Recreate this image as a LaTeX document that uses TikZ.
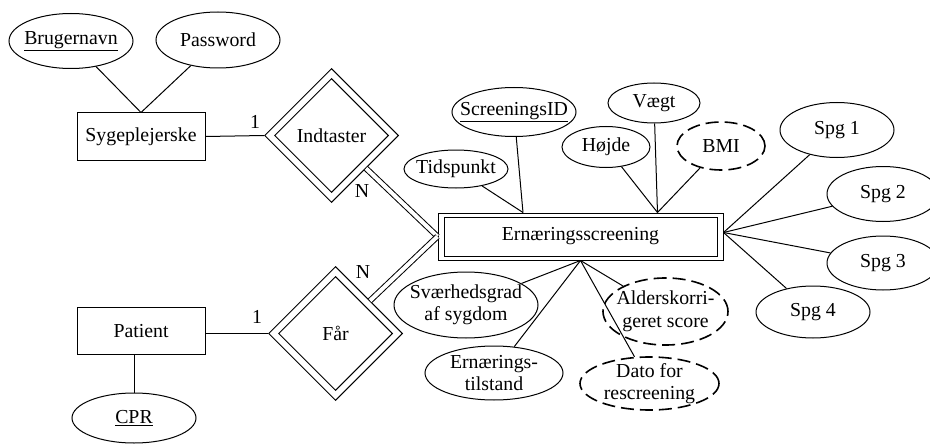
\documentclass[tikz,border=0pt]{standalone}
\usepackage{fontspec}
\setmainfont{Liberation Serif}
\usetikzlibrary{shapes.geometric}
\begin{document}
\begin{tikzpicture}[x=1pt,y=-1pt,
  line width=1pt,
  every node/.style={font=\fontsize{19.8}{22.5}\selectfont},
  entity/.style={draw, rectangle, minimum width=128pt, minimum height=47pt},
  attr/.style={draw, ellipse, inner sep=0pt},
  derived/.style={attr, dash pattern=on 13pt off 6pt, line width=1.6pt},
  relouter/.style={draw, diamond, aspect=1, inner sep=0pt, minimum width=134pt, minimum height=134pt},
  relinner/.style={draw, diamond, aspect=1, inner sep=0pt, minimum width=114pt, minimum height=114pt},
  card/.style={inner sep=0pt},
  ident/.style={double, double distance=4pt},
  txt/.style={align=center, inner sep=0pt},
]
\useasboundingbox (0,0) rectangle (930,444);

% entities
\node[entity] (syg) at (141,136.5) {Sygeplejerske};
\node[entity] (pat) at (141,331) {Patient};
\node[entity, minimum width=285pt, minimum height=47pt] (ent) at (580.5,236.5) {Ernæringsscreening};
\draw ([shift={(6.5,4.5)}]ent.north west) rectangle ([shift={(-6.5,-4.5)}]ent.south east);

% relationships (identifying, double diamonds)
\node[relouter] (ind) at (331.5,135.5) {};
\node[relinner] (indI) at (ind) {Indtaster};
\node[relouter] (far) at (335.5,333.5) {};
\node[relinner] (farI) at (far) {Får};

% attributes of Sygeplejerske
\node[attr, minimum width=124pt, minimum height=55pt] (brug) at (71,41) {};
\node[txt] (brugT) at (brug) {\underline{Brugernavn}};
\node[attr, minimum width=124pt, minimum height=56pt] (pass) at (218,40) {};
\node[txt] (passT) at (pass) {Password};
\draw (brug) -- (syg.north);
\draw (pass) -- (syg.north);

% attribute of Patient
\node[attr, minimum width=124pt, minimum height=50pt] (cpr) at (134,418) {};
\node[txt] (cprT) at (cpr) {\underline{CPR}};
\draw (cpr) -- (cpr |- pat.south);

% relationship connectors with cardinalities
\draw (syg.east) -- (ind.west);
\node[card] (c1) at (255,122) {1};
\draw (far.west -| pat.east) -- (far.west);
\node[card] (c2) at (257,317) {1};
\draw[ident] (ind) -- (ent.west);
\node[card] (n1) at (362,191) {N};
\draw[ident] (far) -- (ent.west);
\node[card] (n2) at (363,272) {N};

% attachment points on Ernæringsscreening
\coordinate (topL) at ([xshift=-57.5pt]ent.north);
\coordinate (topR) at ([xshift=77pt]ent.north);
\coordinate (rgt) at ([yshift=4pt]ent.east);

% attributes above
\node[attr, minimum width=104pt, minimum height=38pt] (tid) at (456,169) {};
\node[txt] (tidT) at (tid) {Tidspunkt};
\node[attr, minimum width=124pt, minimum height=49pt] (sid) at (514,112) {};
\node[txt] (sidT) at (sid) {\underline{ScreeningsID}};
\node[attr, minimum width=88pt, minimum height=41pt] (hoj) at (606,147) {};
\node[txt] (hojT) at (hoj) {Højde};
\node[attr, minimum width=92pt, minimum height=40pt] (vaegt) at (654,103) {};
\node[txt] (vaegtT) at (vaegt) {Vægt};
\node[derived, minimum width=88pt, minimum height=48pt] (bmi) at (721,146) {};
\node[txt] (bmiT) at (bmi) {BMI};
\draw (tid) -- (topL);
\draw (sid) -- (topL);
\draw (hoj) -- (topR);
\draw (vaegt) -- (topR);
\draw (bmi) -- (topR);

% questions on the right
\node[attr, minimum width=114pt, minimum height=55pt] (spg1) at (837,130) {};
\node[txt] (spg1T) at (spg1) {Spg 1};
\node[attr, minimum width=112pt, minimum height=55pt] (spg2) at (883,194) {};
\node[txt] (spg2T) at (spg2) {Spg 2};
\node[attr, minimum width=112pt, minimum height=54pt] (spg3) at (883,263) {};
\node[txt] (spg3T) at (spg3) {Spg 3};
\node[attr, minimum width=114pt, minimum height=52pt] (spg4) at (813,312) {};
\node[txt] (spg4T) at (spg4) {Spg 4};
\draw (spg1) -- (rgt);
\draw (spg2) -- (rgt);
\draw (spg3) -- (rgt);
\draw (spg4) -- (rgt);

% attributes below
\node[attr, minimum width=144pt, minimum height=66pt] (svaer) at (466,305) {};
\node[txt] (svaerT) at (svaer) {Sværhedsgrad\\af sygdom};
\node[attr, minimum width=138pt, minimum height=54pt] (ernt) at (494,373) {};
\node[txt] (erntT) at (ernt) {Ernærings-\\tilstand};
\node[derived, minimum width=125pt, minimum height=67pt] (alder) at (665.5,311.5) {};
\node[txt] (alderT) at (alder) {Alderskorri-\\geret score};
\node[derived, minimum width=139pt, minimum height=53pt] (dato) at (649.5,383.5) {};
\node[txt] (datoT) at (dato) {Dato for\\rescreening};
\draw (svaer) -- (ent.south);
\draw (ernt) -- (ent.south);
\draw (alder) -- (ent.south);
\draw (dato) -- (ent.south);
\end{tikzpicture}
\end{document}
